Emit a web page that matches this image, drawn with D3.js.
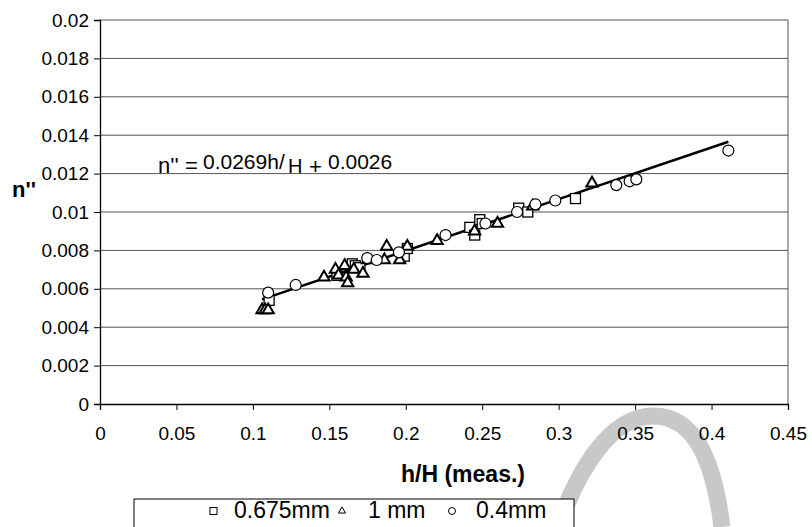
<!DOCTYPE html>
<html>
<head>
<meta charset="utf-8">
<script src="https://cdn.jsdelivr.net/npm/d3@7"></script>
<style>
  body { margin: 0; background: #fff; }
  text { font-family: "Liberation Sans", Arial, sans-serif; fill: #000; }
</style>
</head>
<body>
<div id="chart"></div>
<script>
// series
const sqX  = [0.1106, 0.155, 0.165, 0.167, 0.170, 0.199, 0.201, 0.2419, 0.2451, 0.2484, 0.250, 0.2739, 0.2798, 0.311];
const sqY  = [0.0054, 0.0067, 0.0073, 0.0072, 0.0071, 0.0077, 0.0081, 0.0092, 0.0088, 0.0096, 0.0094, 0.0102, 0.0100, 0.0107];
const triX = [0.106, 0.108, 0.110, 0.1465, 0.154, 0.156, 0.160, 0.161, 0.162, 0.166, 0.172, 0.175, 0.186, 0.1875, 0.196, 0.201, 0.2205, 0.245, 0.260, 0.283, 0.3218];
const triY = [0.0049, 0.0049, 0.0049, 0.0066, 0.0070, 0.0067, 0.0072, 0.0066, 0.0063, 0.0070, 0.0068, 0.0075, 0.0075, 0.0082, 0.0075, 0.0082, 0.0085, 0.0090, 0.0094, 0.0103, 0.0115];
const cirX = [0.110, 0.128, 0.1748, 0.181, 0.1955, 0.226, 0.2521, 0.2728, 0.2848, 0.2978, 0.3377, 0.3464, 0.3508, 0.411];
const cirY = [0.0058, 0.0062, 0.0076, 0.0075, 0.0079, 0.0088, 0.0094, 0.0100, 0.0104, 0.0106, 0.0114, 0.0116, 0.0117, 0.0132];

const seriesNames = ["0.675mm", "1 mm", "0.4mm"];
const xTicks = [0, 0.05, 0.1, 0.15, 0.2, 0.25, 0.3, 0.35, 0.4, 0.45];
const xTickLabels = ["0", "0.05", "0.1", "0.15", "0.2", "0.25", "0.3", "0.35", "0.4", "0.45"];
const yTicks = [0, 0.002, 0.004, 0.006, 0.008, 0.01, 0.012, 0.014, 0.016, 0.018, 0.02];
const yTickLabels = ["0", "0.002", "0.004", "0.006", "0.008", "0.01", "0.012", "0.014", "0.016", "0.018", "0.02"];

// trend line n'' = 0.0269 h/H + 0.0026
const slope = 0.0269;
const intercept = 0.0026;

const W = 812, H = 527;
const svg = d3.select("#chart").append("svg")
  .attr("width", W).attr("height", H);

svg.append("rect").attr("width", W).attr("height", H).attr("fill", "#fff");

const x = d3.scaleLinear().domain([0, 0.45]).range([100, 788]);
const y = d3.scaleLinear().domain([0, 0.02]).range([404, 20]);

// faint watermark stroke below the axis, lower right
svg.append("path")
  .attr("d", "M558,527 C578,470 610,417 652,416 C692,415 713,455 722,527")
  .attr("fill", "none")
  .attr("stroke", "#c8c8c8")
  .attr("stroke-width", 17);

// gridlines
svg.append("g").selectAll("line")
  .data(yTicks.slice(1))
  .enter().append("line")
  .attr("x1", x(0)).attr("x2", x(0.45))
  .attr("y1", d => y(d)).attr("y2", d => y(d))
  .attr("stroke", "#555").attr("stroke-width", 1);

// right border
svg.append("line")
  .attr("x1", x(0.45)).attr("x2", x(0.45))
  .attr("y1", y(0.02)).attr("y2", y(0))
  .attr("stroke", "#555");

// X axis
const xAxis = svg.append("g")
  .attr("transform", `translate(0,${y(0)})`)
  .call(d3.axisBottom(x).tickValues(xTicks).tickSize(6).tickPadding(17)
    .tickFormat((d, i) => xTickLabels[i]));

// Y axis
const yAxis = svg.append("g")
  .attr("transform", `translate(${x(0)},0)`)
  .call(d3.axisLeft(y).tickValues(yTicks).tickSize(6).tickPadding(5)
    .tickFormat((d, i) => yTickLabels[i]));

[xAxis, yAxis].forEach(g => {
  g.select(".domain").attr("stroke", "#000").attr("stroke-width", 1.3);
  g.selectAll(".tick line").attr("stroke", "#000");
  g.selectAll("text").style("font-size", "19px").attr("fill", "#000");
});

// axis titles
svg.append("text")
  .attr("x", 463).attr("y", 482)
  .attr("text-anchor", "middle")
  .style("font-size", "23px").style("font-weight", "bold")
  .text("h/H (meas.)");

svg.append("text")
  .attr("x", 12).attr("y", 197)
  .style("font-size", "22px").style("font-weight", "bold")
  .text("n''");

// trend line
const allX = sqX.concat(triX, cirX);
const xMin = d3.min(allX), xMax = d3.max(allX);
svg.append("line")
  .attr("x1", x(xMin)).attr("y1", y(slope * xMin + intercept))
  .attr("x2", x(xMax)).attr("y2", y(slope * xMax + intercept))
  .attr("stroke", "#000").attr("stroke-width", 2.5);

// markers
const pts = (xs, ys) => xs.map((v, i) => [v, ys[i]]);

svg.append("g").selectAll("rect")
  .data(pts(sqX, sqY))
  .enter().append("rect")
  .attr("x", d => x(d[0]) - 5).attr("y", d => y(d[1]) - 5)
  .attr("width", 10).attr("height", 10)
  .attr("fill", "#fff").attr("stroke", "#000").attr("stroke-width", 1.3);

const tri = d3.symbol().type(d3.symbolTriangle).size(55);
svg.append("g").selectAll("path")
  .data(pts(triX, triY))
  .enter().append("path")
  .attr("d", tri)
  .attr("transform", d => `translate(${x(d[0])},${y(d[1])})`)
  .attr("fill", "#fff").attr("stroke", "#000").attr("stroke-width", 2);

svg.append("g").selectAll("circle")
  .data(pts(cirX, cirY))
  .enter().append("circle")
  .attr("cx", d => x(d[0])).attr("cy", d => y(d[1]))
  .attr("r", 5.5)
  .attr("fill", "#fff").attr("stroke", "#000").attr("stroke-width", 1.2);

// equation label
const eq = svg.append("g");
const eqParts = [
  { t: "n''", x: 158, y: 173, s: 22 },
  { t: "=", x: 185, y: 173, s: 22 },
  { t: "0.0269h/", x: 203, y: 169, s: 21 },
  { t: "H", x: 288, y: 173, s: 20 },
  { t: "+", x: 309, y: 174, s: 22 },
  { t: "0.0026", x: 328, y: 169, s: 21 }
];
eq.selectAll("text").data(eqParts).enter().append("text")
  .attr("x", d => d.x).attr("y", d => d.y)
  .style("font-size", d => d.s + "px")
  .text(d => d.t);

// legend
const lg = svg.append("g");
lg.append("rect")
  .attr("x", 134).attr("y", 499).attr("width", 440).attr("height", 40)
  .attr("fill", "#fff").attr("stroke", "#000").attr("stroke-width", 1);

const legY = 511;
lg.append("rect").attr("x", 210).attr("y", legY - 3.5).attr("width", 7).attr("height", 7)
  .attr("fill", "#fff").attr("stroke", "#000");
lg.append("path").attr("d", d3.symbol().type(d3.symbolTriangle).size(22))
  .attr("transform", `translate(342,${legY})`)
  .attr("fill", "#fff").attr("stroke", "#000");
lg.append("circle").attr("cx", 452).attr("cy", legY).attr("r", 3.5)
  .attr("fill", "#fff").attr("stroke", "#000");

lg.selectAll("text.lab").data(seriesNames).enter().append("text")
  .attr("class", "lab")
  .attr("x", (d, i) => [234, 368, 476][i])
  .attr("y", 518)
  .style("font-size", "23px")
  .text(d => d);
</script>
</body>
</html>
